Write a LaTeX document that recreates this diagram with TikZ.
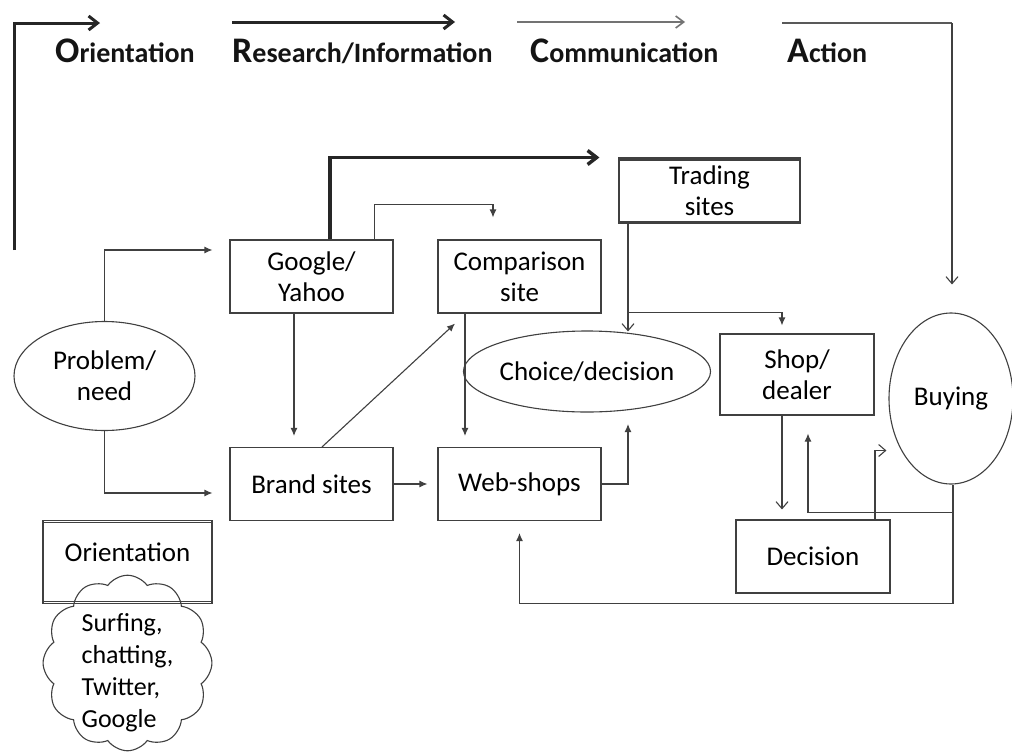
\documentclass[tikz,border=0pt]{standalone}
\usepackage{fontspec}
\setmainfont{Carlito}
\usetikzlibrary{arrows.meta,shapes.geometric,shapes.symbols}
\begin{document}
\begin{tikzpicture}[x=1pt,y=-1pt,
  inkline/.style={draw=black!75, line width=1.1pt},
  box/.style={inkline, rectangle, minimum width=163pt, minimum height=73pt,
    inner sep=2pt, align=center, font=\fontsize{27}{31}\selectfont},
  oval/.style={inkline, ellipse, inner sep=0pt, align=center,
    font=\fontsize{27}{31}\selectfont},
  conn/.style={inkline, -{Latex[length=8pt,width=7pt]}},
  connopen/.style={inkline, -{Straight Barb[length=7pt,width=12pt]}},
  phase/.style={anchor=base west, inner sep=0pt, text=black!92,
    font=\fontsize{28}{32}\selectfont\bfseries},
  phasebig/.style={line width=3pt, draw=black!85, -{Straight Barb[length=9pt,width=14pt]}},
  phasethin/.style={line width=1.6pt, draw=black!55, -{Straight Barb[length=8pt,width=12pt]}},
]
\useasboundingbox (0,0) rectangle (1012,755);
\fill[white] (0,0) rectangle (1012,755);

% phase headings
\node[phase] (hOri) at (55,62) {{\fontsize{36}{36}\selectfont O}rientation};
\node[phase] (hRes) at (232,62) {{\fontsize{36}{36}\selectfont R}esearch/Information};
\node[phase] (hCom) at (530,62) {{\fontsize{36}{36}\selectfont C}ommunication};
\node[phase] (hAct) at (787,62) {{\fontsize{36}{36}\selectfont A}ction};

% phase arrows
\coordinate (oriFoot) at (14,250);
\coordinate (oriTip) at (100,23);
\coordinate (resStart) at (232,22);
\coordinate (resTip) at (455,22);
\coordinate (comStart) at (517,22);
\coordinate (comTip) at (685,22);
\coordinate (actStart) at (782,23);
\coordinate (actCorner) at (952,23);
\draw[phasebig] (oriFoot) |- (oriTip);
\draw[phasebig] (resStart) -- (resTip);
\draw[phasethin] (comStart) -- (comTip);

% boxes
\node[box] (google) at (311.5,276.5) {Google/\\Yahoo};
\node[box] (comp) at (519.5,276.5) {Comparison\\site};
\node[box, minimum width=181pt, minimum height=65pt] (trade) at (709.5,190.5) {Trading\\sites};
\node[box] (brand) at (311.5,484) {Brand sites};
\node[box] (web) at (519.5,484) {Web-shops};
\node[box, minimum width=154pt, minimum height=81pt] (shop) at (797,374.5) {Shop/\\dealer};
\node[box, minimum width=154pt] (dec) at (813,556.5) {Decision};
\node[box, minimum width=169pt, minimum height=83pt, text depth=20pt] (orient) at (127.5,562) {Orientation};

% doubled top and bottom edges
\foreach \n in {trade,orient}{
  \draw[inkline] ([yshift=-2.5pt]\n.north west) -- ([yshift=-2.5pt]\n.north east);
  \draw[inkline] ([yshift=2.5pt]\n.south west) -- ([yshift=2.5pt]\n.south east);
}

% ovals
\node[oval, minimum width=181pt, minimum height=109pt] (prob) at (104.5,376) {Problem/\\need};
\node[oval, minimum width=207pt, minimum height=81pt] (choice) at (587,371.5) {Choice/decision};
\node[oval, minimum width=124pt, minimum height=171pt] (buy) at (951,398.5) {Buying};

% cloud of orientation activities
\node[cloud, inkline, cloud puffs=12, cloud puff arc=110, aspect=0.95,
  minimum width=150pt, minimum height=160pt, inner sep=-12pt, align=left,
  text height=133pt, font=\fontsize{26}{32}\selectfont] (cloud) at (127.5,663) {Surfing,\\chatting,\\Twitter,\\Google};

% action arrow down to buying
\draw[line width=2.6pt, draw=black!65] (actStart) -- (actCorner);
\draw[connopen] (actCorner) -- ([xshift=1pt,yshift=28pt]buy.north);

% connectors
\draw[conn] (prob.north) |- ([xshift=-17pt,yshift=26.5pt]google.west);
\draw[conn] (prob.south) |- ([xshift=-17pt,yshift=-9pt]brand.west);
\draw[conn] ([xshift=-17.5pt]google.south) -- ([xshift=-17.5pt,yshift=11pt]brand.north);
\draw[line width=3.5pt, draw=black!85, -{Straight Barb[length=9pt,width=14pt]}]
  ([xshift=18.5pt]google.north) |- ([xshift=-19pt,yshift=33pt]trade.west);
\draw[conn] ([xshift=63pt]google.north) |- ([xshift=-26.5pt,yshift=35pt]comp.north)
  -- ([xshift=-26.5pt,yshift=22pt]comp.north);
\draw[conn] ([xshift=10.5pt]brand.north) -- ([xshift=-64.5pt,yshift=-10pt]comp.south);
\draw[conn] ([xshift=-54.5pt]comp.south) -- ([xshift=-54.5pt,yshift=11pt]web.north);
\draw[conn] (brand.east) -- ([xshift=-10pt]web.west);
\draw[conn] (web.east) -| ([xshift=41pt,yshift=-11.5pt]choice.south);
\draw[connopen] ([xshift=-81.5pt]trade.south) -- ([xshift=41pt,yshift=-1pt]choice.north);
\draw[conn] ([xshift=-81.5pt,yshift=-89pt]trade.south) -| ([xshift=-15pt,yshift=8pt]shop.north);
\draw[connopen] ([xshift=-15pt]shop.south) -- ([xshift=-31pt,yshift=10pt]dec.north);
\draw[conn] ([xshift=2pt]buy.south) |- ([yshift=-82pt]web.south) -- ([yshift=-12pt]web.south);
\draw[conn] ([xshift=2pt,yshift=-28pt]buy.south) -| ([xshift=11pt,yshift=-18pt]shop.south);
\draw[connopen] ([xshift=62pt]dec.north) |- ([xshift=-2pt,yshift=-52pt]buy.west);
\end{tikzpicture}
\end{document}
